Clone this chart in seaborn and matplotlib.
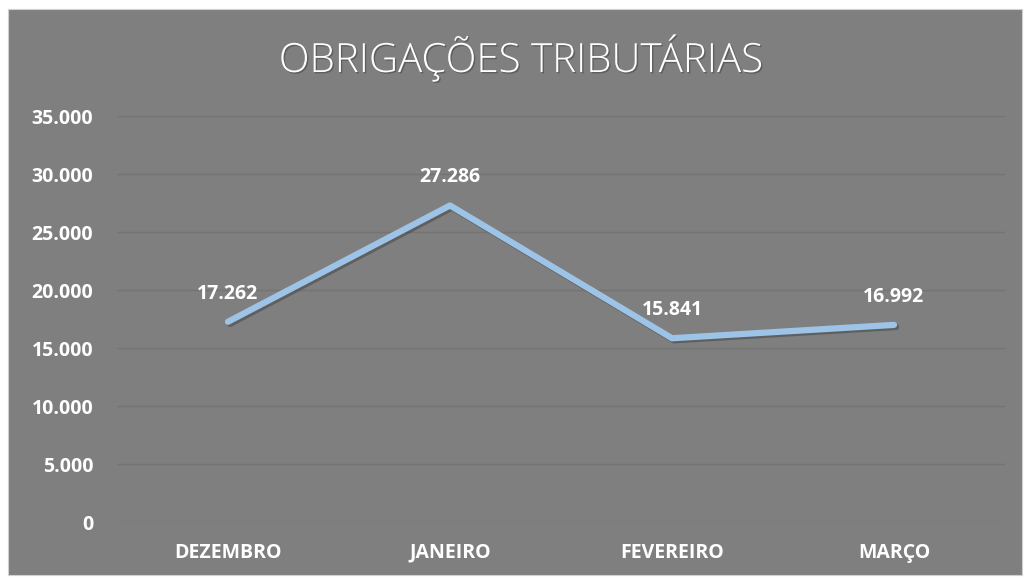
import pandas as pd
import seaborn as sns
import matplotlib.pyplot as plt
import matplotlib.patheffects as pe
from matplotlib.patches import Rectangle
from matplotlib.ticker import FuncFormatter

MONTHS = ["DEZEMBRO", "JANEIRO", "FEVEREIRO", "MARÇO"]
VALUES = [17262, 27286, 15841, 16992]
TITLE = "OBRIGAÇÕES TRIBUTÁRIAS"

BG = "#7f7f7f"
GRID = "#747474"
LINE = "#9dc3e6"


def fmt_pt(v, _=None):
    return f"{int(round(v)):,}".replace(",", ".")


def main():
    df = pd.DataFrame({"mes": MONTHS, "valor": VALUES})

    sns.set_theme(style="white")
    plt.rcParams["font.family"] = ["Open Sans", "DejaVu Sans"]

    fig = plt.figure(figsize=(10.25, 5.78), dpi=100)
    fig.patch.set_facecolor("white")
    fig.patches.append(Rectangle((8 / 1025, 3 / 578), 1014 / 1025, 566 / 578,
                                 transform=fig.transFigure, facecolor=BG,
                                 edgecolor="#d0d0d0", linewidth=0.8, zorder=-5))

    ax = fig.add_axes([117 / 1025, 56 / 578, 888 / 1025, 406 / 578])
    ax.set_zorder(2)
    ax.patch.set_alpha(0)

    sns.lineplot(data=df, x="mes", y="valor", sort=False, color=LINE,
                 linewidth=4.5, ax=ax, solid_capstyle="round",
                 path_effects=[pe.SimpleLineShadow(offset=(1.5, -1.5), shadow_color="#404040", alpha=0.5),
                               pe.Normal()])

    ax.set_xlim(-0.5, len(MONTHS) - 0.5)
    ax.set_ylim(0, 35000)
    ax.set_yticks(range(0, 35001, 5000))
    ax.yaxis.set_major_formatter(FuncFormatter(fmt_pt))
    ax.grid(axis="y", color=GRID, linewidth=1.0)
    ax.grid(axis="x", visible=False)
    for s in ax.spines.values():
        s.set_visible(False)
    ax.tick_params(axis="both", length=0, colors="white")
    ax.tick_params(axis="y", pad=17)
    ax.tick_params(axis="x", pad=15)
    ax.set_xticks(range(len(MONTHS)))
    ax.set_xticklabels(MONTHS, fontsize=14, fontweight="bold")
    for lbl in ax.get_yticklabels():
        lbl.set_fontsize(14)
        lbl.set_fontweight("bold")
    ax.set_xlabel("")
    ax.set_ylabel("")

    for i, v in enumerate(VALUES):
        ax.annotate(fmt_pt(v), (i, v), xytext=(0, 13), textcoords="offset points",
                    ha="center", va="bottom", color="white", fontsize=14,
                    fontweight="bold")

    fig.text(521 / 1025, 1 - 58 / 578, TITLE, ha="center", va="center",
             color="white", fontsize=29, fontweight="light",
             path_effects=[pe.withSimplePatchShadow(offset=(1, -1), shadow_rgbFace="#404040", alpha=0.5)])

    fig.savefig("out.png", dpi=100, facecolor="white")


if __name__ == "__main__":
    main()
